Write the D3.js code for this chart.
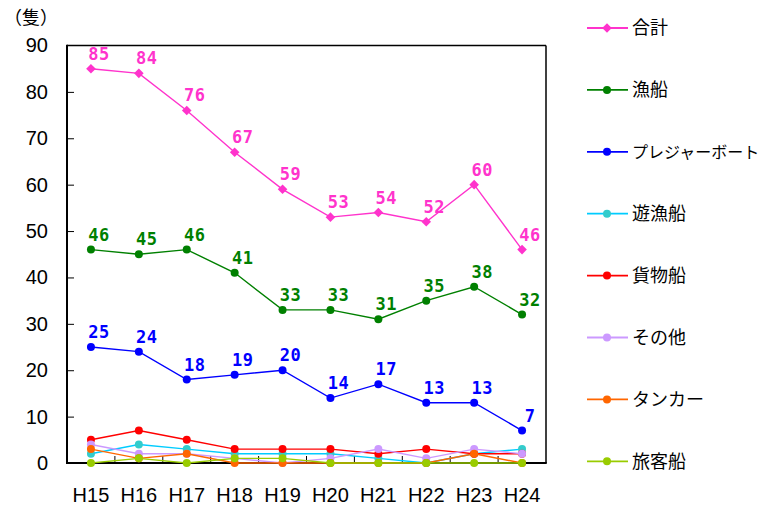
<!DOCTYPE html>
<html><head><meta charset="utf-8">
<script src="https://cdn.jsdelivr.net/npm/d3@7/dist/d3.min.js"></script>
<style>
html,body{margin:0;padding:0;background:#fff;}
svg{display:block;}
</style></head>
<body>
<svg id="chart" width="765" height="507"></svg>
<script>
const categories = ["H15","H16","H17","H18","H19","H20","H21","H22","H23","H24"];
const seriesNames = ["合計","漁船","プレジャーボート","遊漁船","貨物船","その他","タンカー","旅客船"];
const totalValues    = [85,84,76,67,59,53,54,52,60,46];
const fishingValues  = [46,45,46,41,33,33,31,35,38,32];
const pleasureValues = [25,24,18,19,20,14,17,13,13,7];
const yuugyoValues   = [2,4,3,2,2,2,1,0,2,3];
const cargoValues    = [5,7,5,3,3,3,2,3,2,2];
const otherValues    = [4,2,2,1,0,1,3,1,3,2];
const tankerValues   = [3,1,2,0,0,0,0,0,2,0];
const passengerValues= [0,1,0,1,1,0,0,0,0,0];
const yTicks = [0,10,20,30,40,50,60,70,80,90];
const yUnit = "（隻）";

const seriesValues = [totalValues,fishingValues,pleasureValues,yuugyoValues,cargoValues,otherValues,tankerValues,passengerValues];
const styles = [
  {line:"#FF33CC", fill:"#FF33CC", shape:"diamond", label:true},
  {line:"#008000", fill:"#008000", shape:"circle", label:true},
  {line:"#0000FF", fill:"#0000FF", shape:"circle", label:true},
  {line:"#00CCFF", fill:"#33CCCC", shape:"circle", label:false},
  {line:"#FF0000", fill:"#FF0000", shape:"circle", label:false},
  {line:"#CC99FF", fill:"#CC99FF", shape:"circle", label:false},
  {line:"#FF6600", fill:"#FF6600", shape:"circle", label:false},
  {line:"#99CC00", fill:"#99CC00", shape:"circle", label:false}
];

const svg = d3.select("#chart");
const L = 67, R = 546, T = 45.5, B = 463;
const x = d3.scaleBand().domain(categories).range([L, R]);
const cx = c => x(c) + x.bandwidth()/2;
const y = d3.scaleLinear().domain([0,90]).range([B, T]);

// Y axis
const yAxis = d3.axisLeft(y).tickValues(yTicks).tickSize(-7).tickPadding(19);
const yg = svg.append("g").attr("transform",`translate(${L},0)`).call(yAxis);
yg.select(".domain").remove();
yg.selectAll(".tick line").attr("stroke","#000").attr("stroke-width",1)
  .filter(d => d===0 || d===90).remove();
yg.selectAll(".tick text").attr("font-family","'Liberation Sans', Arial, sans-serif")
  .attr("font-size",20).attr("fill","#000");

// X axis
const xAxis = d3.axisBottom(x).tickSize(0).tickPadding(24.5);
const xg = svg.append("g").attr("transform",`translate(0,${B})`).call(xAxis);
xg.select(".domain").remove();
xg.selectAll(".tick text").attr("font-family","'Liberation Sans', Arial, sans-serif")
  .attr("font-size",20).attr("fill","#000");

// bottom inner ticks at category boundaries
svg.append("g").selectAll("line").data(categories.slice(1)).join("line")
  .attr("x1", c => x(c)).attr("x2", c => x(c))
  .attr("y1", B).attr("y2", B-7).attr("stroke","#000").attr("stroke-width",1);

// plot border
svg.append("line").attr("x1",L).attr("x2",R).attr("y1",T).attr("y2",T).attr("stroke","#000").attr("stroke-width",1.5);
svg.append("line").attr("x1",R).attr("x2",R).attr("y1",T).attr("y2",B).attr("stroke","#000").attr("stroke-width",1.5);
svg.append("line").attr("x1",L).attr("x2",L).attr("y1",T-0.75).attr("y2",B+1).attr("stroke","#000").attr("stroke-width",2);
svg.append("line").attr("x1",L-1).attr("x2",R+0.75).attr("y1",B).attr("y2",B).attr("stroke","#000").attr("stroke-width",2);

// unit label
svg.append("text").attr("x",4).attr("y",24).attr("font-family","'Noto Sans CJK JP', sans-serif")
  .attr("font-size",18).attr("fill","#000").text(yUnit);

function drawMarker(g, st, px, py) {
  if (st.shape === "diamond") {
    g.append("path").attr("d", d3.symbol().type(d3.symbolSquare).size(46)())
      .attr("transform",`translate(${px},${py}) rotate(45)`).attr("fill",st.fill);
  } else {
    g.append("circle").attr("cx",px).attr("cy",py).attr("r",4).attr("fill",st.fill);
  }
}

const line = d3.line().x((d,i) => cx(categories[i])).y(d => y(d));
seriesValues.forEach((vals, si) => {
  const st = styles[si];
  const g = svg.append("g");
  g.append("path").datum(vals).attr("d", line).attr("fill","none")
    .attr("stroke", st.line).attr("stroke-width",1.4);
  vals.forEach((v,i) => drawMarker(g, st, cx(categories[i]), y(v)));
});

// data labels (drawn on top)
seriesValues.forEach((vals, si) => {
  const st = styles[si];
  if (!st.label) return;
  svg.append("g").selectAll("text").data(vals).join("text")
    .attr("x", (d,i) => cx(categories[i]) + 8)
    .attr("y", d => y(d) - 9)
    .attr("text-anchor","middle")
    .attr("font-family","'DejaVu Sans Mono', monospace")
    .attr("font-weight","bold").attr("font-size",17).attr("letter-spacing",0.5)
    .attr("fill", st.fill).text(d => d);
});

// legend
const lg = svg.append("g");
seriesNames.forEach((name, si) => {
  const st = styles[si];
  const ly = 28 + si * 61.9;
  lg.append("line").attr("x1",587).attr("x2",628).attr("y1",ly).attr("y2",ly)
    .attr("stroke", st.line).attr("stroke-width",1.8);
  drawMarker(lg, st, 607, ly);
  const long = name.length > 6;
  lg.append("text").attr("x",632).attr("y",ly).attr("dy","0.36em")
    .attr("font-family","'Noto Sans CJK JP', sans-serif")
    .attr("font-size", long ? 16 : 18)
    .attr("fill","#000").text(name);
});
</script>
</body></html>
